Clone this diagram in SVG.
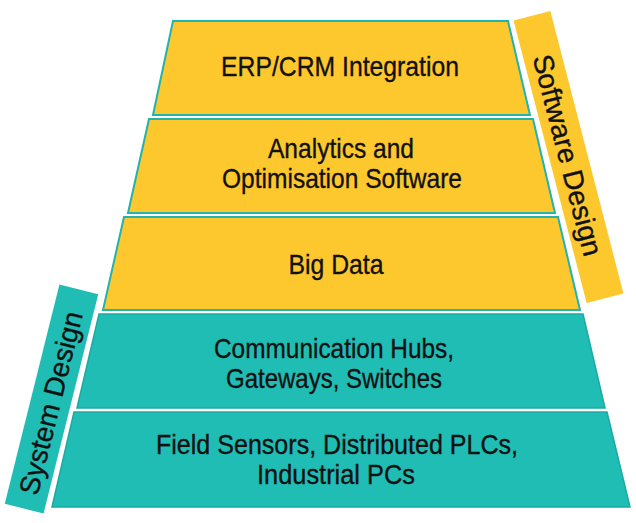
<svg xmlns="http://www.w3.org/2000/svg" width="636" height="523" viewBox="0 0 636 523">
  <style>
    .sw { fill: #FDC82E; stroke: #22B3AC; stroke-width: 2; stroke-linejoin: miter; }
    .sys { fill: #20BDB5; stroke: #1AAAA3; stroke-width: 1.5; }
    .bar-sw { fill: #FDC82E; }
    .bar-sys { fill: #20BDB5; }
    .lbl { font-family: "Liberation Sans", Arial, sans-serif; font-size: 28px; fill: #111111; stroke: #111111; stroke-width: 0.35; text-anchor: middle; }
  </style>
  <rect width="636" height="523" fill="#FFFFFF"/>

  <g id="layer-erp">
    <polygon class="sw" points="173,21 508,21 530,115 153,115"/>
    <text class="lbl" x="340" y="76" textLength="238" lengthAdjust="spacingAndGlyphs">ERP/CRM Integration</text>
  </g>

  <g id="layer-analytics">
    <polygon class="sw" points="149,119 533,119 555,213 128,213"/>
    <text class="lbl" x="341" y="158" textLength="146" lengthAdjust="spacingAndGlyphs">Analytics and</text>
    <text class="lbl" x="342" y="188" textLength="240" lengthAdjust="spacingAndGlyphs">Optimisation Software</text>
  </g>

  <g id="layer-bigdata">
    <polygon class="sw" points="124,217 558,217 580,310 103,310"/>
    <text class="lbl" x="336" y="274" textLength="95" lengthAdjust="spacingAndGlyphs">Big Data</text>
  </g>

  <g id="layer-comm">
    <polygon class="sys" points="99,314 583,314 605,408 77,408"/>
    <text class="lbl" x="334" y="358" textLength="240" lengthAdjust="spacingAndGlyphs">Communication Hubs,</text>
    <text class="lbl" x="334" y="388" textLength="216" lengthAdjust="spacingAndGlyphs">Gateways, Switches</text>
  </g>

  <g id="layer-field">
    <polygon class="sys" points="74,412 607,412 630,507 52,507"/>
    <text class="lbl" x="337" y="454" textLength="362" lengthAdjust="spacingAndGlyphs">Field Sensors, Distributed PLCs,</text>
    <text class="lbl" x="336" y="484" textLength="158" lengthAdjust="spacingAndGlyphs">Industrial PCs</text>
  </g>

  <g id="label-software-design" transform="translate(568.5,157) rotate(75.5)">
    <rect class="bar-sw" x="-146" y="-19" width="292" height="38"/>
    <text class="lbl" x="-2" y="10" textLength="207" lengthAdjust="spacingAndGlyphs">Software Design</text>
  </g>

  <g id="label-system-design" transform="translate(51.5,399) rotate(-76)">
    <rect class="bar-sys" x="-113" y="-20" width="226" height="40"/>
    <text class="lbl" x="-4" y="10" textLength="188" lengthAdjust="spacingAndGlyphs">System Design</text>
  </g>
</svg>
